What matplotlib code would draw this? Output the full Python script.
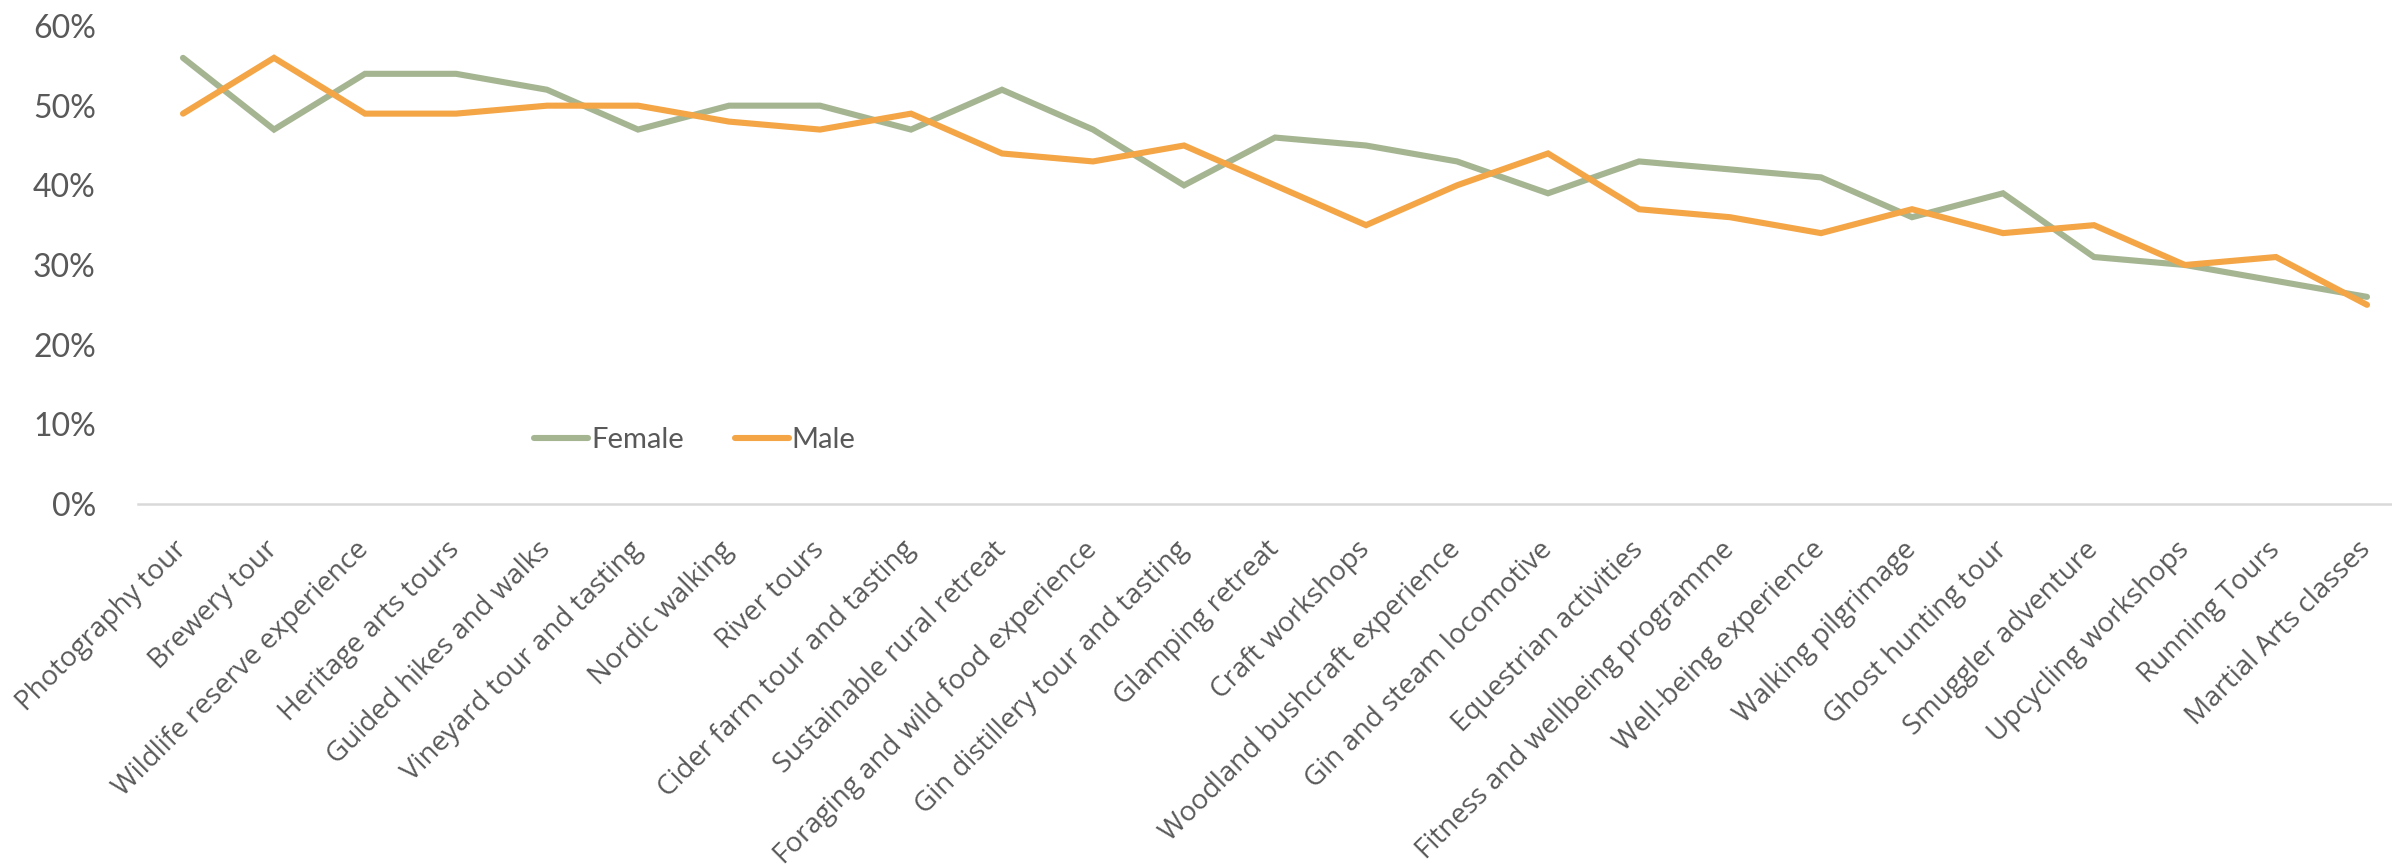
import matplotlib
matplotlib.use("Agg")
import matplotlib.pyplot as plt
from matplotlib.ticker import FuncFormatter
from matplotlib import font_manager

categories = [
    "Photography tour", "Brewery tour", "Wildlife reserve experience",
    "Heritage arts tours", "Guided hikes and walks", "Vineyard tour and tasting",
    "Nordic walking", "River tours", "Cider farm tour and tasting",
    "Sustainable rural retreat", "Foraging and wild food experience",
    "Gin distillery tour and tasting", "Glamping retreat", "Craft workshops",
    "Woodland bushcraft experience", "Gin and steam locomotive",
    "Equestrian activities", "Fitness and wellbeing programme",
    "Well-being experience", "Walking pilgrimage", "Ghost hunting tour",
    "Smuggler adventure", "Upcycling workshops", "Running Tours",
    "Martial Arts classes",
]
female = [56, 47, 54, 54, 52, 47, 50, 50, 47, 52, 47, 40, 46, 45, 43, 39,
          43, 42, 41, 36, 39, 31, 30, 28, 26]
male = [49, 56, 49, 49, 50, 50, 48, 47, 49, 44, 43, 45, 40, 35, 40, 44,
        37, 36, 34, 37, 34, 35, 30, 31, 25]
series_names = ["Female", "Male"]
colors = ["#A5B592", "#F4A546"]
yticks = [0, 10, 20, 30, 40, 50, 60]

installed = {f.name for f in font_manager.fontManager.ttflist}
narrow = "Liberation Sans Narrow" if "Liberation Sans Narrow" in installed else "Lato"
label_font = "Open Sans" if "Open Sans" in installed else "DejaVu Sans"

W, H = 2392, 868
dpi = 100
fig = plt.figure(figsize=(W / dpi, H / dpi), dpi=dpi)
left_px, right_px = 137.5, 2412.5
top_px, bottom_px = 26, 504
ax = fig.add_axes([left_px / W, 1 - bottom_px / H,
                   (right_px - left_px) / W, (bottom_px - top_px) / H])

x = list(range(len(categories)))
ax.plot(x, female, color=colors[0], lw=4.4, label=series_names[0],
        solid_joinstyle="miter", solid_capstyle="round", zorder=3)
ax.plot(x, male, color=colors[1], lw=4.4, label=series_names[1],
        solid_joinstyle="miter", solid_capstyle="round", zorder=4)

ax.set_xlim(-0.5, len(categories) - 0.5)
ax.set_ylim(0, 60)
ax.set_yticks(yticks)
ax.yaxis.set_major_formatter(FuncFormatter(lambda v, p: f"{v:.0f}%"))
for s in ["top", "right", "left"]:
    ax.spines[s].set_visible(False)
ax.spines["bottom"].set_color("#D9D9D9")
ax.spines["bottom"].set_linewidth(1.8)
ax.tick_params(axis="both", length=0)
ax.tick_params(axis="y", pad=30, labelsize=23, labelcolor="#595959")
for t in ax.get_yticklabels():
    t.set_fontfamily(narrow)

ax.set_xticks(x)
ax.set_xticklabels(categories, rotation=45, ha="right", va="center",
                   rotation_mode="anchor", fontsize=20, color="#595959",
                   fontfamily=label_font)
ax.tick_params(axis="x", pad=30)

leg = fig.legend(loc="center left", bbox_to_anchor=(534 / W, 1 - 440 / H),
                 ncol=2, frameon=False, handlelength=1.85, handletextpad=0.1,
                 columnspacing=1.75, borderpad=0, borderaxespad=0,
                 prop={"family": narrow, "size": 21})
for t in leg.get_texts():
    t.set_color("#595959")

fig.savefig("out.png", dpi=dpi, facecolor="white")
